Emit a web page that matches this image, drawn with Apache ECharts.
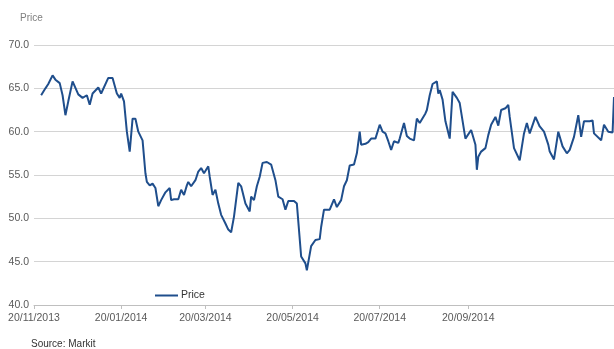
<!DOCTYPE html>
<html>
<head>
<meta charset="utf-8">
<script src="https://cdn.jsdelivr.net/npm/echarts@6/dist/echarts.min.js"></script>
<style>
html,body{margin:0;padding:0;background:#fff;}
#chart{width:614px;height:349px;}
</style>
</head>
<body>
<div id="chart"></div>
<script>
// Data
var dates = [
"2013-11-25","2013-11-28","2013-11-30","2013-12-03","2013-12-05","2013-12-08","2013-12-10","2013-12-12","2013-12-14","2013-12-17",
"2013-12-21","2013-12-24","2013-12-27","2013-12-29","2013-12-31","2014-01-04","2014-01-06","2014-01-11","2014-01-14","2014-01-17",
"2014-01-19","2014-01-20","2014-01-22","2014-01-24","2014-01-26","2014-01-28","2014-01-30","2014-02-01","2014-02-04","2014-02-06",
"2014-02-07","2014-02-08","2014-02-09","2014-02-11","2014-02-13","2014-02-15","2014-02-17","2014-02-20","2014-02-23","2014-02-24",
"2014-02-26","2014-03-01","2014-03-03","2014-03-05","2014-03-07","2014-03-08","2014-03-10","2014-03-13","2014-03-15","2014-03-17",
"2014-03-19","2014-03-22","2014-03-23","2014-03-25","2014-03-27","2014-03-29","2014-03-31","2014-04-03","2014-04-05","2014-04-07",
"2014-04-09","2014-04-12","2014-04-14","2014-04-17","2014-04-20","2014-04-21","2014-04-23","2014-04-25","2014-04-27","2014-04-29",
"2014-05-02","2014-05-05","2014-05-08","2014-05-10","2014-05-13","2014-05-15","2014-05-17","2014-05-21","2014-05-23","2014-05-26",
"2014-05-29","2014-05-30","2014-06-02","2014-06-05","2014-06-08","2014-06-09","2014-06-11","2014-06-15","2014-06-18","2014-06-20",
"2014-06-23","2014-06-25","2014-06-27","2014-06-29","2014-07-02","2014-07-04","2014-07-06","2014-07-07","2014-07-10","2014-07-12",
"2014-07-14","2014-07-17","2014-07-20","2014-07-22","2014-07-24","2014-07-26","2014-07-28","2014-07-30","2014-08-02","2014-08-03",
"2014-08-06","2014-08-08","2014-08-10","2014-08-13","2014-08-15","2014-08-17","2014-08-21","2014-08-22","2014-08-24","2014-08-26",
"2014-08-29","2014-08-30","2014-08-31","2014-09-02","2014-09-04","2014-09-07","2014-09-09","2014-09-12","2014-09-14","2014-09-18",
"2014-09-19","2014-09-22","2014-09-25","2014-09-26","2014-09-27","2014-09-29","2014-10-02","2014-10-04","2014-10-06","2014-10-09",
"2014-10-11","2014-10-13","2014-10-16","2014-10-18","2014-10-19","2014-10-22","2014-10-26","2014-10-29","2014-10-31","2014-11-02",
"2014-11-06","2014-11-09","2014-11-12","2014-11-15","2014-11-16","2014-11-19","2014-11-22","2014-11-25","2014-11-28","2014-11-30",
"2014-12-03","2014-12-06","2014-12-08","2014-12-10","2014-12-14","2014-12-16","2014-12-17","2014-12-22","2014-12-24","2014-12-27",
"2014-12-30","2014-12-31"
];
var prices = [
64.2,65.0,65.5,66.5,66.0,65.6,64.2,61.9,63.5,65.8,
64.3,63.9,64.2,63.1,64.4,65.1,64.4,66.2,66.2,64.4,
63.9,64.4,63.5,60.0,57.7,61.5,61.5,60.0,59.0,55.2,
54.2,54.4,53.8,54.0,53.5,51.4,52.1,53.0,53.5,52.1,
52.2,52.2,53.3,52.7,53.8,54.2,53.7,54.4,55.4,55.8,
55.2,56.0,54.8,52.7,53.3,51.7,50.4,49.4,48.7,48.4,
50.2,54.1,53.7,51.7,50.8,52.5,52.1,53.7,54.8,56.4,
56.5,56.2,54.4,52.5,52.2,51.0,52.0,52.0,51.7,45.6,
44.8,44.0,46.8,47.5,47.6,49.0,51.0,51.0,52.2,51.3,
52.1,53.7,54.4,56.1,56.2,57.5,60.0,58.5,58.6,58.8,
59.2,59.2,60.8,60.0,59.8,58.9,57.9,58.9,58.7,59.2,
61.0,59.5,59.2,59.0,61.5,61.0,62.1,62.5,64.2,65.5,
65.8,64.4,64.8,63.7,61.2,59.2,64.6,63.9,63.3,59.2,
59.0,60.2,58.5,55.6,57.1,57.7,58.1,59.6,60.8,61.7,
60.7,62.5,62.7,63.1,61.7,58.1,56.7,59.8,61.0,59.8,
61.7,60.6,60.0,58.5,57.7,56.8,60.0,58.3,57.5,57.9,
59.4,61.9,59.4,61.2,61.2,61.3,59.8,59.0,60.8,60.0,
59.9,64.0
];
var tickDates = ["2013-11-20","2014-01-20","2014-03-20","2014-05-20","2014-07-20","2014-09-20"];
var axisStart = "2013-11-20";
var axisEnd = "2014-12-31";
var yTicks = [40, 45, 50, 55, 60, 65, 70];

function toTs(s){ var p = s.split('-'); return Date.UTC(+p[0], +p[1]-1, +p[2]); }
function pad(n){ return (n<10?'0':'')+n; }

var seriesData = dates.map(function(d,i){ return [toTs(d), prices[i]]; });
var tickTs = tickDates.map(toTs);

var chart = echarts.init(document.getElementById('chart'), null, {renderer:'canvas'});
chart.setOption({
  animation: false,
  backgroundColor: '#ffffff',
  textStyle: { fontFamily: 'Liberation Sans, Arial, sans-serif' },
  grid: { left: 34, right: 0, top: 45, bottom: 44, containLabel: false },
  legend: {
    data: [{ name: 'Price', icon: 'rect' }],
    left: 150, top: 285,
    itemWidth: 23, itemHeight: 2, itemGap: 10,
    textStyle: { fontSize: 10.5, color: '#333333', padding: [0,0,0,-2] }
  },
  graphic: [{
    type: 'text', left: 31, top: 339,
    style: { text: 'Source: Markit', fill: '#333333', font: '10px Liberation Sans, Arial, sans-serif' }
  }],
  xAxis: {
    type: 'value',
    min: toTs(axisStart),
    max: toTs(axisEnd),
    axisLine: { show: true, lineStyle: { color: '#bfbfbf', width: 1 } },
    axisTick: { show: true, length: 4, lineStyle: { color: '#bfbfbf' }, customValues: tickTs },
    axisLabel: {
      customValues: tickTs,
      color: '#595959', fontSize: 10.5, margin: 8,
      formatter: function(v){ var d = new Date(v); return pad(d.getUTCDate())+'/'+pad(d.getUTCMonth()+1)+'/'+d.getUTCFullYear(); }
    },
    splitLine: { show: false }
  },
  yAxis: {
    type: 'value',
    min: yTicks[0], max: yTicks[yTicks.length-1], interval: 5,
    name: 'Price',
    nameLocation: 'end',
    nameGap: 22,
    nameTextStyle: { color: '#7f7f7f', fontSize: 10, align: 'center', padding: [0, 0, 0, -5] },
    axisLine: { show: false },
    axisTick: { show: false },
    axisLabel: { color: '#595959', fontSize: 10.5, margin: 5, formatter: function(v){ return v.toFixed(1); } },
    splitLine: { lineStyle: { color: '#d4d4d4', width: 1 } }
  },
  series: [{
    name: 'Price',
    type: 'line',
    data: seriesData,
    showSymbol: false,
    symbol: 'none',
    lineStyle: { color: '#1f4e8c', width: 2 },
    itemStyle: { color: '#1f4e8c' }
  }]
});
</script>
</body>
</html>
